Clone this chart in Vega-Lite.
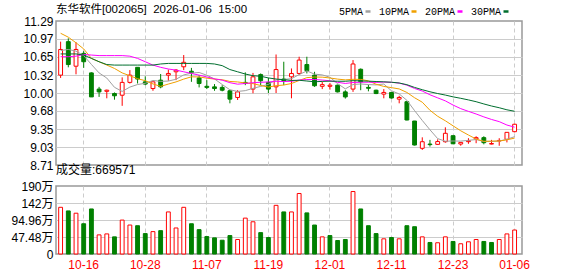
{
  "$schema": "https://vega.github.io/schema/vega-lite/v6.json",
  "background": "white",
  "padding": {"left": 10, "top": 3, "right": 5, "bottom": 3},
  "config": {
    "font": "Liberation Sans, Noto Sans CJK SC",
    "view": {"stroke": "#999999", "strokeWidth": 1.5},
    "axis": {"ticks": false, "domain": false, "labelFont": "Liberation Sans, Noto Sans CJK SC", "labelFontSize": 12, "labelColor": "#000000", "gridColor": "#cccccc", "gridWidth": 1, "title": null, "labelOverlap": false},
    "axisY": {"labelPadding": 3},
    "title": {"font": "Liberation Sans, Noto Sans CJK SC", "fontWeight": "normal", "color": "#000000"}
  },
  "datasets": {
    "k": [
      {"d":"2025-10-13","o":10.32,"h":10.92,"l":10.27,"c":10.78,"v":1304000,"5PMA":10.76,"10PMA":11.07,"20PMA":10.65,"30PMA":10.70},
      {"d":"2025-10-14","o":10.92,"h":10.98,"l":10.46,"c":10.51,"v":1203000,"5PMA":10.78,"10PMA":11.00,"20PMA":10.65,"30PMA":10.70},
      {"d":"2025-10-15","o":10.48,"h":10.91,"l":10.335,"c":10.78,"v":1139000,"5PMA":10.75,"10PMA":10.90,"20PMA":10.66,"30PMA":10.70},
      {"d":"2025-10-16","o":10.71,"h":10.75,"l":10.45,"c":10.56,"v":845000,"5PMA":10.67,"10PMA":10.79,"20PMA":10.69,"30PMA":10.68},
      {"d":"2025-10-17","o":10.36,"h":10.37,"l":9.93,"c":9.93,"v":1258000,"5PMA":10.512,"10PMA":10.62,"20PMA":10.68,"30PMA":10.62},
      {"d":"2025-10-20","o":10.07,"h":10.11,"l":9.93,"c":10.02,"v":534000,"5PMA":10.36,"10PMA":10.56,"20PMA":10.67,"30PMA":10.56},
      {"d":"2025-10-21","o":10.03,"h":10.06,"l":9.905,"c":10.05,"v":561000,"5PMA":10.268,"10PMA":10.50,"20PMA":10.67,"30PMA":10.51},
      {"d":"2025-10-22","o":9.99,"h":10.01,"l":9.88,"c":9.95,"v":479000,"5PMA":10.102,"10PMA":10.44,"20PMA":10.67,"30PMA":10.50},
      {"d":"2025-10-23","o":9.96,"h":10.28,"l":9.77,"c":10.19,"v":947000,"5PMA":10.028,"10PMA":10.36,"20PMA":10.67,"30PMA":10.50},
      {"d":"2025-10-24","o":10.19,"h":10.41,"l":10.17,"c":10.32,"v":809000,"5PMA":10.106,"10PMA":10.309,"20PMA":10.66,"30PMA":10.50},
      {"d":"2025-10-27","o":10.46,"h":10.46,"l":10.17,"c":10.25,"v":790000,"5PMA":10.152,"10PMA":10.256,"20PMA":10.62,"30PMA":10.50},
      {"d":"2025-10-28","o":10.20,"h":10.30,"l":10.14,"c":10.16,"v":570000,"5PMA":10.174,"10PMA":10.221,"20PMA":10.56,"30PMA":10.50},
      {"d":"2025-10-29","o":10.08,"h":10.20,"l":10.04,"c":10.20,"v":625000,"5PMA":10.224,"10PMA":10.163,"20PMA":10.50,"30PMA":10.50},
      {"d":"2025-10-30","o":10.23,"h":10.34,"l":10.085,"c":10.11,"v":652000,"5PMA":10.208,"10PMA":10.118,"20PMA":10.46,"30PMA":10.52},
      {"d":"2025-10-31","o":10.32,"h":10.42,"l":10.22,"c":10.35,"v":1175000,"5PMA":10.214,"10PMA":10.16,"20PMA":10.43,"30PMA":10.53},
      {"d":"2025-11-03","o":10.38,"h":10.43,"l":10.23,"c":10.41,"v":727000,"5PMA":10.246,"10PMA":10.199,"20PMA":10.41,"30PMA":10.53},
      {"d":"2025-11-04","o":10.47,"h":10.68,"l":10.41,"c":10.55,"v":1304000,"5PMA":10.324,"10PMA":10.249,"20PMA":10.38,"30PMA":10.53},
      {"d":"2025-11-05","o":10.39,"h":10.45,"l":10.20,"c":10.36,"v":845000,"5PMA":10.356,"10PMA":10.29,"20PMA":10.35,"30PMA":10.53},
      {"d":"2025-11-06","o":10.27,"h":10.32,"l":10.10,"c":10.17,"v":680000,"5PMA":10.368,"10PMA":10.288,"20PMA":10.32,"30PMA":10.53},
      {"d":"2025-11-07","o":10.12,"h":10.23,"l":10.07,"c":10.10,"v":487000,"5PMA":10.318,"10PMA":10.266,"20PMA":10.288,"30PMA":10.53},
      {"d":"2025-11-10","o":10.11,"h":10.16,"l":10.04,"c":10.08,"v":451000,"5PMA":10.252,"10PMA":10.249,"20PMA":10.253,"30PMA":10.52},
      {"d":"2025-11-11","o":10.10,"h":10.14,"l":10.03,"c":10.05,"v":385000,"5PMA":10.152,"10PMA":10.238,"20PMA":10.23,"30PMA":10.49},
      {"d":"2025-11-12","o":10.04,"h":10.05,"l":9.815,"c":9.89,"v":515000,"5PMA":10.058,"10PMA":10.207,"20PMA":10.185,"30PMA":10.42},
      {"d":"2025-11-13","o":9.92,"h":10.05,"l":9.875,"c":10.02,"v":405000,"5PMA":10.028,"10PMA":10.198,"20PMA":10.158,"30PMA":10.38},
      {"d":"2025-11-14","o":10.19,"h":10.37,"l":10.14,"c":10.17,"v":1002000,"5PMA":10.042,"10PMA":10.18,"20PMA":10.17,"30PMA":10.34},
      {"d":"2025-11-17","o":10.07,"h":10.36,"l":9.995,"c":10.29,"v":900000,"5PMA":10.084,"10PMA":10.168,"20PMA":10.184,"30PMA":10.31},
      {"d":"2025-11-18","o":10.33,"h":10.35,"l":10.14,"c":10.22,"v":597000,"5PMA":10.118,"10PMA":10.135,"20PMA":10.192,"30PMA":10.30},
      {"d":"2025-11-19","o":10.19,"h":10.27,"l":10.00,"c":10.07,"v":460000,"5PMA":10.154,"10PMA":10.106,"20PMA":10.198,"30PMA":10.27},
      {"d":"2025-11-20","o":10.11,"h":10.69,"l":10.00,"c":10.42,"v":1359000,"5PMA":10.234,"10PMA":10.131,"20PMA":10.21,"30PMA":10.25},
      {"d":"2025-11-21","o":10.25,"h":10.56,"l":10.14,"c":10.22,"v":1175000,"5PMA":10.244,"10PMA":10.143,"20PMA":10.205,"30PMA":10.239},
      {"d":"2025-11-24","o":10.29,"h":10.44,"l":9.905,"c":10.35,"v":1175000,"5PMA":10.256,"10PMA":10.17,"20PMA":10.21,"30PMA":10.225},
      {"d":"2025-11-25","o":10.35,"h":10.65,"l":10.32,"c":10.59,"v":1690000,"5PMA":10.33,"10PMA":10.224,"20PMA":10.231,"30PMA":10.228},
      {"d":"2025-11-26","o":10.51,"h":10.65,"l":10.35,"c":10.40,"v":1148000,"5PMA":10.396,"10PMA":10.275,"20PMA":10.241,"30PMA":10.215},
      {"d":"2025-11-27","o":10.32,"h":10.38,"l":10.11,"c":10.13,"v":809000,"5PMA":10.338,"10PMA":10.286,"20PMA":10.242,"30PMA":10.201},
      {"d":"2025-11-28","o":10.12,"h":10.20,"l":10.07,"c":10.15,"v":479000,"5PMA":10.324,"10PMA":10.284,"20PMA":10.232,"30PMA":10.208},
      {"d":"2025-12-01","o":10.12,"h":10.18,"l":10.06,"c":10.14,"v":515000,"5PMA":10.282,"10PMA":10.269,"20PMA":10.219,"30PMA":10.212},
      {"d":"2025-12-02","o":10.14,"h":10.15,"l":10.01,"c":10.02,"v":377000,"5PMA":10.168,"10PMA":10.249,"20PMA":10.192,"30PMA":10.211},
      {"d":"2025-12-03","o":10.02,"h":10.05,"l":9.90,"c":9.93,"v":405000,"5PMA":10.074,"10PMA":10.235,"20PMA":10.171,"30PMA":10.21},
      {"d":"2025-12-04","o":10.07,"h":10.59,"l":10.02,"c":10.52,"v":1745000,"5PMA":10.152,"10PMA":10.245,"20PMA":10.188,"30PMA":10.221},
      {"d":"2025-12-05","o":10.425,"h":10.44,"l":10.05,"c":10.20,"v":1258000,"5PMA":10.162,"10PMA":10.243,"20PMA":10.193,"30PMA":10.217},
      {"d":"2025-12-08","o":10.10,"h":10.15,"l":10.03,"c":10.085,"v":790000,"5PMA":10.151,"10PMA":10.217,"20PMA":10.193,"30PMA":10.212},
      {"d":"2025-12-09","o":10.05,"h":10.06,"l":9.98,"c":9.99,"v":570000,"5PMA":10.145,"10PMA":10.157,"20PMA":10.19,"30PMA":10.206},
      {"d":"2025-12-10","o":9.98,"h":10.07,"l":9.905,"c":10.01,"v":424000,"5PMA":10.161,"10PMA":10.118,"20PMA":10.196,"30PMA":10.20},
      {"d":"2025-12-11","o":10.01,"h":10.02,"l":9.90,"c":9.91,"v":460000,"5PMA":10.039,"10PMA":10.096,"20PMA":10.191,"30PMA":10.193},
      {"d":"2025-12-12","o":9.89,"h":9.95,"l":9.815,"c":9.92,"v":424000,"5PMA":9.983,"10PMA":10.073,"20PMA":10.178,"30PMA":10.179},
      {"d":"2025-12-15","o":9.844,"h":9.85,"l":9.51,"c":9.516,"v":790000,"5PMA":9.869,"10PMA":10.01,"20PMA":10.14,"30PMA":10.149},
      {"d":"2025-12-16","o":9.498,"h":9.50,"l":9.06,"c":9.068,"v":762000,"5PMA":9.685,"10PMA":9.915,"20PMA":10.082,"30PMA":10.10},
      {"d":"2025-12-17","o":9.009,"h":9.206,"l":8.98,"c":9.127,"v":479000,"5PMA":9.508,"10PMA":9.835,"20PMA":10.035,"30PMA":10.059},
      {"d":"2025-12-18","o":9.085,"h":9.16,"l":9.04,"c":9.075,"v":322000,"5PMA":9.341,"10PMA":9.69,"20PMA":9.968,"30PMA":10.022},
      {"d":"2025-12-19","o":9.08,"h":9.17,"l":9.07,"c":9.13,"v":314000,"5PMA":9.183,"10PMA":9.583,"20PMA":9.913,"30PMA":9.99},
      {"d":"2025-12-22","o":9.127,"h":9.385,"l":9.11,"c":9.278,"v":479000,"5PMA":9.136,"10PMA":9.502,"20PMA":9.859,"30PMA":9.963},
      {"d":"2025-12-23","o":9.235,"h":9.235,"l":9.085,"c":9.09,"v":350000,"5PMA":9.14,"10PMA":9.412,"20PMA":9.784,"30PMA":9.931},
      {"d":"2025-12-24","o":9.086,"h":9.115,"l":9.056,"c":9.115,"v":286000,"5PMA":9.138,"10PMA":9.323,"20PMA":9.72,"30PMA":9.905},
      {"d":"2025-12-25","o":9.128,"h":9.19,"l":9.09,"c":9.146,"v":341000,"5PMA":9.152,"10PMA":9.247,"20PMA":9.671,"30PMA":9.876},
      {"d":"2025-12-26","o":9.176,"h":9.225,"l":9.10,"c":9.20,"v":405000,"5PMA":9.166,"10PMA":9.175,"20PMA":9.624,"30PMA":9.844},
      {"d":"2025-12-29","o":9.20,"h":9.225,"l":9.08,"c":9.11,"v":350000,"5PMA":9.132,"10PMA":9.134,"20PMA":9.572,"30PMA":9.804},
      {"d":"2025-12-30","o":9.085,"h":9.16,"l":9.08,"c":9.095,"v":322000,"5PMA":9.133,"10PMA":9.137,"20PMA":9.526,"30PMA":9.767},
      {"d":"2025-12-31","o":9.14,"h":9.19,"l":9.055,"c":9.15,"v":405000,"5PMA":9.14,"10PMA":9.139,"20PMA":9.487,"30PMA":9.736},
      {"d":"2026-01-05","o":9.17,"h":9.295,"l":9.115,"c":9.295,"v":561000,"5PMA":9.17,"10PMA":9.161,"20PMA":9.426,"30PMA":9.699},
      {"d":"2026-01-06","o":9.307,"h":9.45,"l":9.295,"c":9.44,"v":669571,"5PMA":9.218,"10PMA":9.192,"20PMA":9.388,"30PMA":9.673}
    ]
  },
  "spacing": 21,
  "bounds": "flush",
  "resolve": {"scale": {"y": "independent", "color": "independent"}},
  "vconcat": [
    {
      "width": 466,
      "height": 144,
      "data": {"name": "k"},
      "title": {"text": "东华软件[002065]\u00a0\u00a02026-01-06\u00a0\u00a015:00", "anchor": "start", "frame": "group", "fontSize": 11.5, "offset": -9},
      "encoding": {
        "x": {
          "field": "d", "type": "ordinal",
          "scale": {"type": "band", "paddingInner": 0.5, "paddingOuter": 0.53, "align": 0.33},
          "axis": {"values": ["2025-10-16","2025-10-28","2025-11-07","2025-11-19","2025-12-01","2025-12-11","2025-12-23","2026-01-06"], "labels": false, "grid": true, "gridDash": [4, 3], "bandPosition": 0.5}
        }
      },
      "layer": [
        {
          "mark": {"type": "rule", "strokeWidth": 1},
          "encoding": {
            "y": {"field": "l", "type": "quantitative", "scale": {"domain": [8.71, 11.29], "nice": false, "zero": false},
              "axis": {"values": [8.71, 9.03, 9.35, 9.68, 10.0, 10.32, 10.65, 10.97, 11.29], "tickCount": 20, "format": ".2f", "labelOverlap": false, "labelBound": false, "labelFlush": false,
                "gridOpacity": {"condition": {"test": "datum.value < 8.72 || datum.value > 11.28", "value": 0}, "value": 1}}},
            "y2": {"field": "h"},
            "color": {"condition": {"test": "datum.c >= datum.o", "value": "#ff0000"}, "value": "#008000"}
          }
        },
        {
          "mark": {"type": "bar", "strokeWidth": 1},
          "encoding": {
            "y": {"field": "o", "type": "quantitative"},
            "y2": {"field": "c"},
            "fill": {"condition": {"test": "datum.c >= datum.o", "value": "#ffffff"}, "value": "#008000"},
            "stroke": {"condition": {"test": "datum.c >= datum.o", "value": "#ff0000"}, "value": "#008000"}
          }
        },
        {
          "transform": [{"fold": ["5PMA", "10PMA", "20PMA", "30PMA"], "as": ["ma", "val"]}],
          "mark": {"type": "line", "strokeWidth": 1},
          "encoding": {
            "y": {"field": "val", "type": "quantitative"},
            "color": {
              "field": "ma", "type": "nominal",
              "scale": {"domain": ["5PMA", "10PMA", "20PMA", "30PMA"], "range": ["#a0a0a0", "#f0a000", "#ff00ff", "#006e2e"]},
              "legend": {"orient": "none", "legendX": 307, "legendY": -14.5, "direction": "horizontal", "title": null,
                "symbolType": "stroke", "symbolSize": 25, "symbolStrokeWidth": 2.5,
                "labelAlign": "right", "labelOffset": -10, "labelFont": "Liberation Mono", "labelFontSize": 10, "labelColor": "#000000",
                "columnPadding": 2, "padding": 0}
            }
          }
        }
      ]
    },
    {
      "width": 466,
      "height": 68,
      "data": {"name": "k"},
      "title": {"text": "成交量:669571", "anchor": "start", "frame": "group", "fontSize": 12, "offset": 3},
      "transform": [{"window": [{"op": "lag", "field": "c", "as": "pc"}], "sort": [{"field": "d"}]}],
      "mark": {"type": "bar", "strokeWidth": 1},
      "encoding": {
        "x": {
          "field": "d", "type": "ordinal",
          "scale": {"type": "band", "paddingInner": 0.5, "paddingOuter": 0.53, "align": 0.33},
          "axis": {"values": ["2025-10-16","2025-10-28","2025-11-07","2025-11-19","2025-12-01","2025-12-11","2025-12-23","2026-01-06"],
            "labelExpr": "slice(datum.label, 5)", "labelAngle": 0, "labelColor": "#ff0000", "labelPadding": 5, "grid": true, "gridDash": [4, 3], "bandPosition": 0.5}
        },
        "y": {"field": "v", "type": "quantitative", "scale": {"domain": [0, 1899200], "nice": false},
          "axis": {"values": [0, 474800, 949600, 1424400, 1899200], "tickCount": 10, "labelOverlap": false, "labelFlush": false,
            "labelExpr": "datum.value == 0 ? '0' : datum.value == 474800 ? '47.48万' : datum.value == 949600 ? '94.96万' : datum.value == 1424400 ? '142万' : '190万'",
            "gridOpacity": {"condition": {"test": "datum.value < 1 || datum.value > 1899000", "value": 0}, "value": 1}}},
        "fill": {"condition": {"test": "datum.pc == null || datum.c >= datum.pc", "value": "#ffffff"}, "value": "#008000"},
        "stroke": {"condition": {"test": "datum.pc == null || datum.c >= datum.pc", "value": "#ff0000"}, "value": "#008000"}
      }
    }
  ]
}
